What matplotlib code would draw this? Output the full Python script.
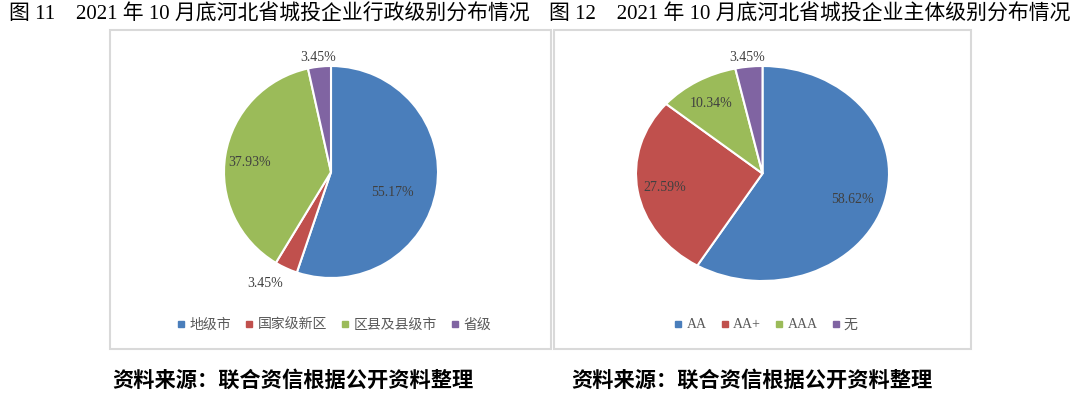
import matplotlib

matplotlib.use("Agg")

import matplotlib.pyplot as plt
from matplotlib.lines import Line2D
from matplotlib.patches import Rectangle

W, H = 1080, 396

C_BLUE = "#4a7ebb"
C_RED = "#c0504d"
C_GREEN = "#9bbb59"
C_PURPLE = "#8064a2"
C_BORDER = "#d9d9d9"
C_LABEL = "#404040"
C_LEGEND = "#595959"

SERIF = ["Liberation Serif", "Noto Sans CJK SC"]

# Data
left_title = "图 11　2021 年 10 月底河北省城投企业行政级别分布情况"
left_cats = ["地级市", "国家级新区", "区县及县级市", "省级"]
left_vals = [55.17, 3.45, 37.93, 3.45]

right_title = "图 12　2021 年 10 月底河北省城投企业主体级别分布情况"
right_cats = ["AA", "AA+", "AAA", "无"]
right_vals = [58.62, 27.59, 10.34, 3.45]

source = "资料来源：联合资信根据公开资料整理"
colors = [C_BLUE, C_RED, C_GREEN, C_PURPLE]

# label positions in pie units (radius 1)
left_lbl_pos = [(0.57, -0.19), (-0.62, -1.05), (-0.76, 0.09), (-0.12, 1.08)]
right_lbl_pos = [(0.71, -0.24), (-0.77, -0.13), (-0.41, 0.65), (-0.12, 1.08)]


def px_axes(fig, x0, y0, x1, y1):
    return fig.add_axes([x0 / W, 1 - y1 / H, (x1 - x0) / W, (y1 - y0) / H])


def draw_pie(ax, vals, lbl_pos):
    wedges, _, autotexts = ax.pie(
        vals,
        colors=colors,
        startangle=90,
        counterclock=False,
        autopct=lambda p: f"{p:.2f}%",
        wedgeprops=dict(edgecolor="white", linewidth=1.5),
        textprops=dict(fontsize=10, color=C_LABEL, family=SERIF),
    )
    for t, (x, y) in zip(autotexts, lbl_pos):
        t.set_position((x, y))
        t.set_clip_on(False)
    ax.set_aspect("auto")
    ax.set_xlim(-1, 1)
    ax.set_ylim(-1, 1)
    ax.axis("off")


def add_legend(fig, cats, cx, cy):
    handles = [
        Line2D([], [], marker="s", linestyle="none", markersize=4, color=c)
        for c in colors
    ]
    fig.legend(
        handles,
        cats,
        loc="center",
        bbox_to_anchor=(cx / W, 1 - cy / H),
        ncol=4,
        frameon=False,
        handlelength=0.6,
        handletextpad=0.3,
        columnspacing=1.0,
        prop=dict(family=SERIF, size=10),
        labelcolor=C_LEGEND,
    )


def main():
    fig = plt.figure(figsize=(W / 100, H / 100), dpi=100)
    fig.patch.set_facecolor("white")

    # panel borders
    for x0, x1 in [(110, 551), (554, 971)]:
        fig.add_artist(
            Rectangle(
                (x0 / W, 1 - 349 / H),
                (x1 - x0) / W,
                (349 - 30) / H,
                transform=fig.transFigure,
                facecolor="none",
                edgecolor=C_BORDER,
                linewidth=1.5,
            )
        )

    fig.text(9 / W, 1 - 15 / H, left_title, ha="left", va="center",
             fontsize=15.0, fontweight="medium", family=SERIF, color="black")
    fig.text(549 / W, 1 - 15 / H, right_title, ha="left", va="center",
             fontsize=15.0, fontweight="medium", family=SERIF, color="black")

    ax1 = px_axes(fig, 224, 66, 438, 278)
    draw_pie(ax1, left_vals, left_lbl_pos)
    ax2 = px_axes(fig, 636, 66, 889, 281)
    draw_pie(ax2, right_vals, right_lbl_pos)

    add_legend(fig, left_cats, 334, 325)
    add_legend(fig, right_cats, 766, 325)

    fig.text(112 / W, 1 - 380 / H, source, ha="left", va="center",
             fontsize=15.3, fontweight="bold", family="Noto Sans CJK SC", color="black")
    fig.text(571 / W, 1 - 380 / H, source, ha="left", va="center",
             fontsize=15.3, fontweight="bold", family="Noto Sans CJK SC", color="black")

    fig.savefig("out.png", dpi=100, facecolor="white")
    plt.close(fig)


if __name__ == "__main__":
    main()
